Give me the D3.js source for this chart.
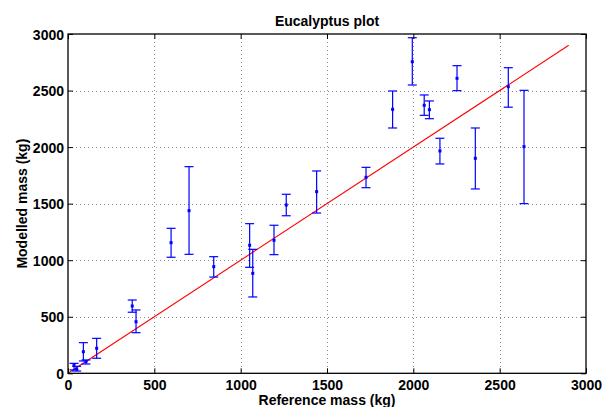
<!DOCTYPE html>
<html>
<head>
<meta charset="utf-8">
<script src="https://cdn.jsdelivr.net/npm/d3@7"></script>
<style>
  html, body { margin: 0; padding: 0; background: #fff; }
  svg { display: block; }
  text { font-family: "Liberation Sans", Arial, Helvetica, sans-serif; font-weight: bold; fill: #000; }
</style>
</head>
<body>
<svg id="chart" width="612" height="407"></svg>
<script>
// Data
const refMass   = [35, 50, 89, 104, 166, 372, 394, 597, 701, 844, 1052, 1070, 1193, 1264, 1440, 1726, 1880, 1994, 2063, 2093, 2154, 2253, 2359, 2550, 2641];
const modelMass = [72, 38, 191, 103, 221, 595, 456, 1155, 1438, 943, 1132, 884, 1176, 1488, 1606, 1733, 2334, 2755, 2370, 2331, 1966, 2608, 1901, 2534, 2004];
const lowerBound = [30, 20, 109, 82, 133, 540, 359, 1026, 1052, 851, 937, 675, 1049, 1393, 1417, 1641, 2169, 2549, 2281, 2251, 1851, 2499, 1630, 2353, 1500];
const upperBound = [88, 62, 271, 118, 309, 648, 560, 1282, 1827, 1031, 1323, 1096, 1309, 1583, 1789, 1821, 2496, 2967, 2461, 2408, 2078, 2720, 2169, 2702, 2502];
const lineX = [0, 2900];
const lineY = [0, 2900];
const xTicks = [0, 500, 1000, 1500, 2000, 2500, 3000];
const yTicks = [0, 500, 1000, 1500, 2000, 2500, 3000];
const titleText = "Eucalyptus plot";
const xLabel = "Reference mass (kg)";
const yLabel = "Modelled mass (kg)";

const svg = d3.select("#chart");
const pL = 68, pR = 586, pT = 34, pB = 373.3;

const x = d3.scaleLinear().domain([0, 3000]).range([pL, pR]);
const y = d3.scaleLinear().domain([0, 3000]).range([pB, pT]);

// grid
const grid = svg.append("g");
grid.selectAll("line.gx").data(xTicks.slice(1, -1)).enter().append("line")
  .attr("x1", d => Math.round(x(d)) + 0.5).attr("x2", d => Math.round(x(d)) + 0.5)
  .attr("y1", pT).attr("y2", pB)
  .attr("stroke", "#8c8c8c").attr("stroke-width", 1).attr("stroke-dasharray", "1,3");
grid.selectAll("line.gy").data(yTicks.slice(1, -1)).enter().append("line")
  .attr("y1", d => Math.round(y(d)) + 0.5).attr("y2", d => Math.round(y(d)) + 0.5)
  .attr("x1", pL).attr("x2", pR)
  .attr("stroke", "#8c8c8c").attr("stroke-width", 1).attr("stroke-dasharray", "1,3");

// reference line
svg.append("line")
  .attr("x1", x(lineX[0])).attr("y1", y(lineY[0]))
  .attr("x2", x(lineX[1])).attr("y2", y(lineY[1]))
  .attr("stroke", "#ff0000").attr("stroke-width", 1.1);

// error bars
const cap = 4.5;
const eb = svg.append("g").attr("stroke", "#0000ff").attr("stroke-width", 1.2).attr("fill", "none");
refMass.forEach((r, i) => {
  const cx = x(r);
  eb.append("line").attr("x1", cx).attr("x2", cx).attr("y1", y(lowerBound[i])).attr("y2", y(upperBound[i]));
  eb.append("line").attr("x1", cx - cap).attr("x2", cx + cap).attr("y1", y(lowerBound[i])).attr("y2", y(lowerBound[i]));
  eb.append("line").attr("x1", cx - cap).attr("x2", cx + cap).attr("y1", y(upperBound[i])).attr("y2", y(upperBound[i]));
});
svg.append("g").selectAll("rect").data(refMass).enter().append("rect")
  .attr("x", d => x(d) - 1.5).attr("y", (d, i) => y(modelMass[i]) - 1.5)
  .attr("width", 3).attr("height", 3).attr("fill", "#0000ff");

// axes box
const xAxisB = d3.axisBottom(x).tickValues(xTicks).tickSize(-5).tickPadding(8).tickFormat(d3.format("d"));
const xAxisT = d3.axisTop(x).tickValues(xTicks).tickSize(-5).tickFormat("");
const yAxisL = d3.axisLeft(y).tickValues(yTicks).tickSize(-5).tickPadding(8).tickFormat(d3.format("d"));
const yAxisR = d3.axisRight(y).tickValues(yTicks).tickSize(-5).tickFormat("");

function styleAxis(g) {
  g.selectAll("path").attr("stroke", "#000").attr("stroke-width", 1.3);
  g.selectAll("line").attr("stroke", "#000").attr("stroke-width", 1);
  g.selectAll("text").attr("font-size", "14px").attr("font-weight", "bold")
    .attr("font-family", "'Liberation Sans', Arial, sans-serif").attr("fill", "#000");
}
const gB = svg.append("g").attr("transform", `translate(0,${pB})`).call(xAxisB);
gB.selectAll("text").attr("dy", null).attr("y", 16.3);
styleAxis(gB);
styleAxis(svg.append("g").attr("transform", `translate(0,${pT})`).call(xAxisT));
const gL = svg.append("g").attr("transform", `translate(${pL},0)`).call(yAxisL);
gL.selectAll("text").attr("x", -4).attr("dy", "0.36em");
styleAxis(gL);
styleAxis(svg.append("g").attr("transform", `translate(${pR},0)`).call(yAxisR));
svg.selectAll(".domain").attr("d", null);
svg.append("rect").attr("x", pL).attr("y", pT).attr("width", pR - pL).attr("height", pB - pT)
  .attr("fill", "none").attr("stroke", "#000").attr("stroke-width", 1.3);

// labels
svg.append("text").attr("x", (pL + pR) / 2).attr("y", 26).attr("text-anchor", "middle")
  .attr("font-size", "14px").text(titleText);
svg.append("text").attr("x", (pL + pR) / 2).attr("y", 405).attr("text-anchor", "middle")
  .attr("font-size", "14px").text(xLabel);
svg.append("text").attr("transform", `translate(27,${(pT + pB) / 2}) rotate(-90)`).attr("text-anchor", "middle")
  .attr("font-size", "14px").text(yLabel);
</script>
</body>
</html>
